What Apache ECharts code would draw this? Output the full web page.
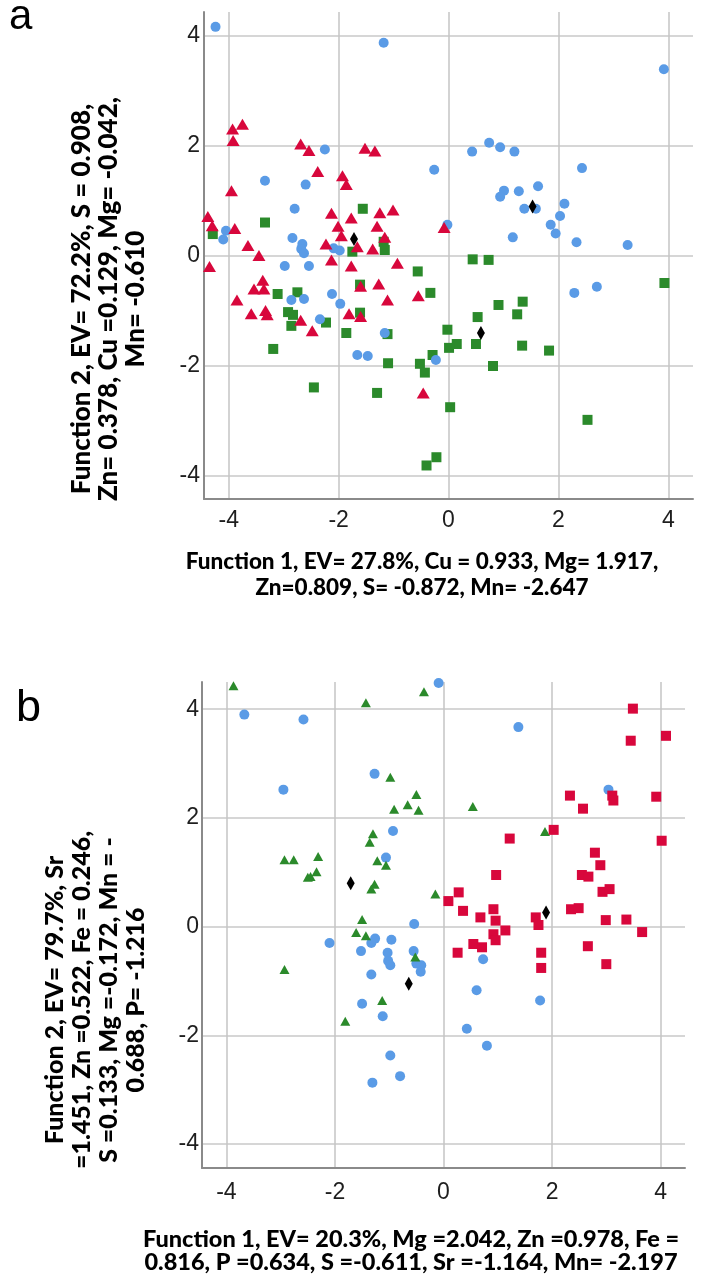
<!DOCTYPE html>
<html>
<head>
<meta charset="utf-8">
<style>
  html, body { margin: 0; padding: 0; background: #ffffff; }
  #chart { width: 705px; height: 1278px; }
</style>
<script src="https://cdn.jsdelivr.net/npm/echarts@6/dist/echarts.min.js"></script>
</head>
<body>
<div id="chart"></div>
<script>
// Tick positions shared by both discriminant plots
const tickValues = [-4, -2, 0, 2, 4];

// Panel a: discriminant scores [Function 1, Function 2]
const aCircles = [
  [-4.24, 4.16], [-1.18, 3.87], [-2.25, 1.93], [-3.34, 1.36], [-2.60, 1.29], [-0.26, 1.56],
  [-2.80, 0.85], [-4.05, 0.45], [-4.10, 0.29], [-2.84, 0.32], [-2.66, 0.21], [-2.68, 0.12],
  [-2.63, 0.04], [-2.09, 0.13], [-1.98, 0.09], [-2.98, -0.19], [-2.54, -0.19], [-2.86, -0.81],
  [-2.63, -0.79], [-2.12, -0.70], [-1.97, -0.88], [-2.34, -1.16], [-1.16, -1.41], [-1.66, -1.81],
  [-1.47, -1.83], [-0.23, -1.90], [3.92, 3.39], [0.43, 1.89], [0.74, 2.05], [0.94, 1.97],
  [1.20, 1.89], [2.43, 1.59], [1.63, 1.26], [1.01, 1.18], [0.94, 1.07], [1.28, 1.17],
  [2.11, 0.94], [1.38, 0.85], [1.59, 0.85], [2.03, 0.72], [1.86, 0.56], [1.95, 0.40],
  [1.17, 0.33], [2.33, 0.24], [3.26, 0.19], [-0.02, 0.56], [2.29, -0.68], [2.70, -0.57]
];
const aTriangles = [
  [-3.75, 2.39], [-3.93, 2.30], [-3.92, 2.09], [-2.69, 2.03], [-2.54, 1.91], [-1.52, 1.95],
  [-1.34, 1.90], [-2.38, 1.53], [-1.93, 1.45], [-1.86, 1.29], [-3.95, 1.18], [-4.38, 0.71],
  [-4.30, 0.54], [-3.89, 0.49], [-2.13, 0.77], [-1.77, 0.68], [-2.01, 0.53], [-1.95, 0.36],
  [-1.25, 0.78], [-1.01, 0.83], [-1.30, 0.53], [-1.16, 0.33], [-2.23, 0.21], [-1.66, 0.16],
  [-1.38, 0.12], [-3.65, 0.18], [-3.45, 0.00], [-2.13, -0.08], [-0.08, 0.51], [-4.35, -0.20],
  [-1.77, -0.19], [-0.93, -0.14], [-3.38, -0.45], [-3.54, -0.61], [-3.36, -0.61], [-3.85, -0.81],
  [-3.59, -1.06], [-3.33, -1.00], [-3.30, -1.08], [-2.69, -1.18], [-2.48, -1.37], [-1.60, -0.56],
  [-1.27, -0.52], [-1.11, -0.81], [-0.55, -0.73], [-1.81, -1.06], [-1.60, -1.11], [-0.46, -2.50]
];
const aSquares = [
  [-1.56, 0.85], [-3.34, 0.60], [-4.29, 0.39], [-1.18, 0.25], [-1.16, 0.10], [-1.75, 0.07],
  [-0.56, -0.29], [-3.11, -0.70], [-2.75, -0.67], [-0.33, -0.68], [-2.92, -1.03], [-2.83, -1.08],
  [-2.86, -1.28], [-2.23, -1.22], [-1.61, -0.53], [-1.61, -1.04], [-1.86, -1.41], [-1.11, -1.43],
  [-3.19, -1.70], [-1.10, -1.96], [-2.45, -2.40], [-1.30, -2.50], [-0.52, -1.97], [-0.43, -2.13],
  [-0.29, -1.81], [-0.40, -3.82], [-0.22, -3.67], [0.44, -0.07], [0.73, -0.08], [3.93, -0.50],
  [0.91, -0.90], [1.35, -0.84], [1.25, -1.07], [0.53, -1.12], [-0.02, -1.35], [0.15, -1.61],
  [0.01, -1.68], [0.50, -1.61], [1.34, -1.64], [1.83, -1.73], [0.81, -2.01], [0.03, -2.76],
  [2.53, -2.99]
];
const aCentroids = [[-1.72, 0.30], [1.53, 0.89], [0.59, -1.41]];

// Panel b: discriminant scores [Function 1, Function 2]
const bCircles = [
  [-0.09, 4.48], [-3.67, 3.90], [-2.58, 3.81], [-1.27, 2.81], [-2.95, 2.52], [-0.93, 1.76],
  [-1.06, 1.27], [-0.54, 0.05], [-2.10, -0.30], [-1.26, -0.22], [-1.33, -0.30], [-0.96, -0.24],
  [-1.52, -0.45], [-1.03, -0.48], [-0.55, -0.45], [-1.02, -0.63], [-0.98, -0.71], [-0.50, -0.68],
  [-0.41, -0.71], [-0.42, -0.83], [-1.33, -0.88], [-1.50, -1.42], [-1.12, -1.65], [-0.98, -2.37],
  [-0.80, -2.75], [-1.31, -2.87], [0.73, -0.60], [0.61, -1.17], [1.78, -1.36], [0.43, -1.88],
  [0.80, -2.19], [1.38, 3.67], [3.04, 2.52]
];
const bTriangles = [
  [-3.87, 4.43], [-1.43, 4.12], [-0.36, 4.32], [-0.98, 2.75], [-0.50, 2.43], [-0.66, 2.24],
  [-0.91, 2.16], [-0.46, 2.14], [-1.30, 1.71], [-1.36, 1.55], [-2.93, 1.23], [-2.76, 1.23],
  [-2.31, 1.29], [-1.22, 1.21], [-1.06, 1.13], [-2.34, 1.01], [-2.50, 0.91], [-2.45, 0.92],
  [-1.27, 0.78], [-1.33, 0.69], [-0.15, 0.60], [-1.50, 0.13], [0.54, 2.21], [1.87, 1.75],
  [-1.61, -0.11], [-1.43, -0.17], [-0.52, -0.56], [-2.93, -0.79], [-1.13, -1.36], [-1.81, -1.74]
];
const bSquares = [
  [3.49, 4.01], [4.10, 3.51], [3.45, 3.42], [2.33, 2.41], [2.57, 2.17], [3.11, 2.41],
  [3.13, 2.32], [3.92, 2.39], [2.03, 1.78], [1.22, 1.62], [4.02, 1.58], [2.79, 1.36],
  [2.89, 1.13], [0.97, 0.95], [2.55, 0.95], [2.67, 0.92], [2.93, 0.64], [3.06, 0.69],
  [0.28, 0.63], [0.09, 0.47], [0.36, 0.29], [0.92, 0.32], [0.68, 0.17], [0.96, 0.11],
  [1.70, 0.17], [1.75, 0.03], [2.35, 0.32], [2.49, 0.34], [2.99, 0.12], [3.37, 0.13],
  [1.14, -0.07], [3.66, -0.10], [0.92, -0.14], [0.96, -0.25], [0.55, -0.32], [0.71, -0.38],
  [0.26, -0.48], [1.80, -0.48], [1.80, -0.76], [2.66, -0.36], [3.00, -0.69]
];
const bCentroids = [[-1.71, 0.80], [-0.64, -1.05], [1.89, 0.26]];

// Axis titles and panel letters
const aXTitle = 'Function 1, EV= 27.8%, Cu = 0.933, Mg= 1.917,\nZn=0.809, S= -0.872, Mn= -2.647';
const aYTitle = 'Function 2, EV= 72.2%, S = 0.908,\nZn= 0.378, Cu =0.129, Mg= -0.042,\nMn= -0.610';
const bXTitle = 'Function 1, EV= 20.3%, Mg =2.042, Zn =0.978, Fe =\n0.816, P =0.634, S =-0.611, Sr =-1.164, Mn= -2.197';
const bYTitle = 'Function 2, EV= 79.7%, Sr\n=1.451, Zn =0.522, Fe = 0.246,\nS =0.133, Mg =-0.172, Mn = -\n0.688, P= -1.216';

const BLUE = '#5A9BE6';
const RED = '#D8073C';
const GREEN = '#2B8A2B';
const BLACK = '#000000';

const tickFont = 'Liberation Sans';

function xAxisCfg(gridIndex, min, max, margin) {
  return {
    type: 'value', gridIndex, min, max,
    axisLine: { show: true, onZero: false, lineStyle: { color: '#8a8a8a', width: 2 } },
    axisTick: { show: false, customValues: tickValues },
    axisLabel: { customValues: tickValues, margin, fontFamily: tickFont, fontSize: 23, color: '#1e1e1e' },
    splitLine: { show: true, lineStyle: { color: '#c4c4c4', width: 1.5 } }
  };
}
function yAxisCfg(gridIndex, min, max, margin) {
  return {
    type: 'value', gridIndex, min, max,
    axisLine: { show: true, onZero: false, lineStyle: { color: '#8a8a8a', width: 2 } },
    axisTick: { show: false, customValues: tickValues },
    axisLabel: { customValues: tickValues, margin, fontFamily: tickFont, fontSize: 23, color: '#1e1e1e' },
    splitLine: { show: true, lineStyle: { color: '#d6d6d6', width: 2 } }
  };
}
function pts(data, idx, symbol, size, color, z) {
  return {
    type: 'scatter', xAxisIndex: idx, yAxisIndex: idx, data, symbol, symbolSize: size,
    itemStyle: { color, opacity: 1 }, z, silent: true, animation: false
  };
}
function title(text, x, y, size, lineHeight, rotated) {
  return {
    type: 'text', x, y, rotation: rotated ? Math.PI / 2 : 0,
    style: {
      text, font: '900 ' + size + 'px Lato', lineHeight, fill: '#000',
      textAlign: 'center', textVerticalAlign: 'middle'
    }
  };
}

const chart = echarts.init(document.getElementById('chart'), null, { renderer: 'canvas' });
chart.setOption({
  animation: false,
  backgroundColor: '#ffffff',
  grid: [
    { left: 204, top: 12, width: 489, height: 487 },
    { left: 202, top: 682, width: 483, height: 486 }
  ],
  xAxis: [xAxisCfg(0, -4.45, 4.45, 10), xAxisCfg(1, -4.45, 4.45, 13)],
  yAxis: [yAxisCfg(0, -4.43, 4.43, 4), yAxisCfg(1, -4.44, 4.50, 3)],
  series: [
    pts(aSquares, 0, 'rect', 10, GREEN, 2),
    pts(aCircles, 0, 'circle', 10, BLUE, 3),
    pts(aTriangles, 0, 'triangle', [13, 11], RED, 4),
    pts(aCentroids, 0, 'diamond', [8, 14], BLACK, 5),
    pts(bCircles, 1, 'circle', 10, BLUE, 2),
    pts(bTriangles, 1, 'triangle', [10, 9], GREEN, 3),
    pts(bSquares, 1, 'rect', 10, RED, 4),
    pts(bCentroids, 1, 'diamond', [8, 14], BLACK, 5)
  ],
  graphic: [
    { type: 'text', x: 9, y: 17, style: { text: 'a', font: '42px "Liberation Sans"', fill: '#000', textAlign: 'left', textVerticalAlign: 'middle' } },
    { type: 'text', x: 16, y: 709, style: { text: 'b', font: '45px "Liberation Sans"', fill: '#000', textAlign: 'left', textVerticalAlign: 'middle' } },
    title(aXTitle, 422, 575, 22.5, 26, false),
    title(aYTitle, 109, 299, 26, 27, true),
    title(bXTitle, 411, 1251, 23.5, 23, false),
    title(bYTitle, 95, 1000, 25, 27, true)
  ]
});
</script>
</body>
</html>
